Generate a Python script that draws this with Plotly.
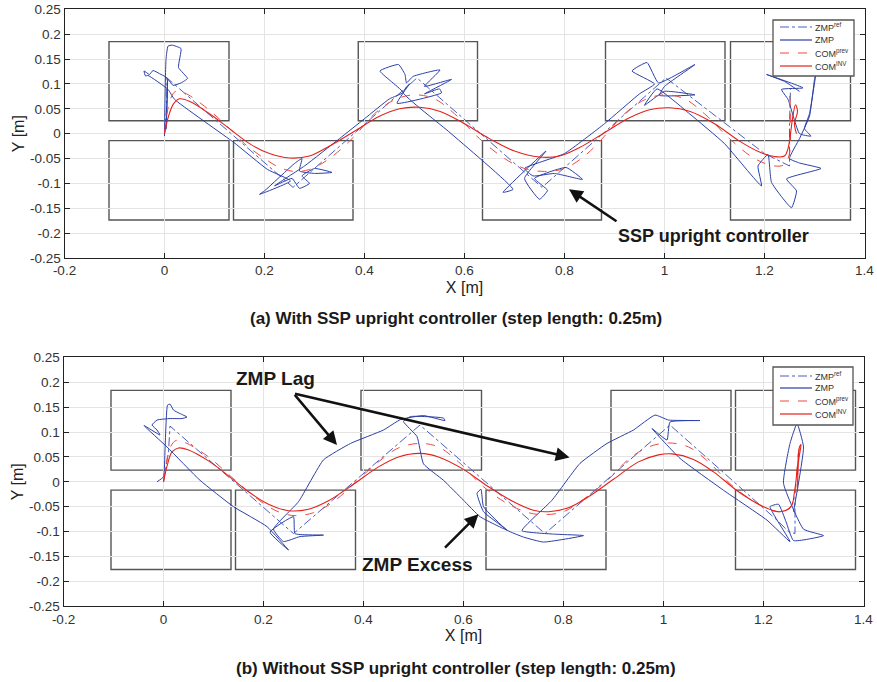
import plotly.graph_objects as go

# ---------------- data: (a) with SSP upright controller ----------------
foot_a_x0 = [-0.111, 0.138, 0.636, 1.132, -0.111, 0.3875, 0.882, 1.132]
foot_a_x1 = [0.129, 0.377, 0.874, 1.372, 0.129, 0.626, 1.121, 1.372]
foot_a_y0 = [-0.1735, -0.1735, -0.1735, -0.1735, 0.026, 0.026, 0.026, 0.026]
foot_a_y1 = [-0.014, -0.014, -0.014, -0.014, 0.185, 0.185, 0.185, 0.185]

zmpref_a_x = [0.0, 0.004, 0.005, 0.257, 0.505, 0.755, 1.003, 1.2, 1.25, 1.25, 1.252]
zmpref_a_y = [0.0, 0.05, 0.112, -0.108, 0.112, -0.108, 0.112, -0.04, -0.065, 0.02, 0.09]

zmp_a_x = [0.0, 0.001, 0.003, 0.007, 0.015, 0.033, 0.028, 0.046, 0.033, 0.017, 0.007, 0.005, 0.003,
           0.005, -0.007, -0.023, -0.03, -0.041, -0.038, -0.033, 0.007, 0.02,
           0.139, 0.206, 0.252,
           0.19, 0.2, 0.26, 0.275, 0.27, 0.3, 0.335, 0.3, 0.275, 0.29, 0.27, 0.255, 0.22, 0.28,
           0.35, 0.4, 0.45, 0.477,
           0.431, 0.468, 0.481, 0.484, 0.497, 0.551, 0.52, 0.574, 0.52, 0.55, 0.554, 0.465, 0.49, 0.477,
           0.571, 0.697,
           0.677, 0.763, 0.72, 0.75, 0.766, 0.74, 0.803, 0.836, 0.78, 0.737, 0.72,
           0.8, 0.88, 0.95, 0.98,
           0.935, 0.965, 0.988, 1.061, 1.0, 0.99, 1.061, 1.0, 0.96, 0.985,
           1.05, 1.12, 1.194,
           1.187, 1.207, 1.214, 1.254, 1.264, 1.244, 1.313, 1.27, 1.25, 1.27, 1.29, 1.3, 1.303,
           1.29, 1.28, 1.293, 1.27, 1.247, 1.234, 1.277, 1.204, 1.24, 1.27]
zmp_a_y = [-0.005, 0.069, 0.149, 0.176, 0.178, 0.171, 0.133, 0.111, 0.102, 0.097, 0.109, 0.069, 0.009,
           0.112, 0.119, 0.127, 0.119, 0.126, 0.116, 0.117, 0.089, 0.069,
           -0.018, -0.072, -0.095,
           -0.122, -0.115, -0.06, -0.05, -0.075, -0.08, -0.078, -0.07, -0.085, -0.1, -0.11, -0.09, -0.105, -0.065,
           -0.01, 0.03, 0.07, 0.083,
           0.126, 0.139, 0.119, 0.102, 0.115, 0.128, 0.095, 0.109, 0.08, 0.09, 0.082, 0.061, 0.1, 0.083,
           0.002, -0.112,
           -0.118, -0.035, -0.09, -0.132, -0.114, -0.09, -0.068, -0.092, -0.08, -0.085, -0.07,
           -0.04, 0.02, 0.08, 0.1,
           0.126, 0.143, 0.102, 0.139, 0.095, 0.077, 0.078, 0.085, 0.057, 0.09,
           0.04, -0.02, -0.105,
           -0.065, -0.042, -0.098, -0.149, -0.115, -0.091, -0.07, -0.059, -0.05, -0.01, 0.035, 0.109, 0.122,
           0.04, 0.01, -0.005, 0.0, 0.069, 0.089, 0.092, 0.119, 0.105, 0.085]

comprev_a_x = [0.0, 0.005, 0.012, 0.022, 0.04, 0.08, 0.12, 0.16, 0.2, 0.23, 0.26, 0.29, 0.33, 0.38, 0.42,
               0.46, 0.5, 0.54, 0.58, 0.63, 0.68, 0.72, 0.76, 0.8, 0.84, 0.88, 0.92, 0.96, 1.0, 1.04,
               1.08, 1.13, 1.18, 1.22, 1.24, 1.25, 1.252, 1.252, 1.25]
comprev_a_y = [0.0, 0.04, 0.07, 0.085, 0.082, 0.055, 0.02, -0.02, -0.05, -0.068, -0.076, -0.072, -0.05,
               -0.005, 0.04, 0.068, 0.078, 0.07, 0.04, -0.01, -0.05, -0.07, -0.076, -0.07, -0.045,
               -0.005, 0.04, 0.068, 0.078, 0.07, 0.04, -0.01, -0.05, -0.065, -0.062, -0.04, 0.0, 0.05, 0.08]

cominv_a_x = [0.0, 0.008, 0.018, 0.03, 0.05, 0.09, 0.13, 0.17, 0.21, 0.25, 0.29, 0.33, 0.38, 0.43, 0.47,
              0.51, 0.55, 0.6, 0.65, 0.7, 0.75, 0.79, 0.83, 0.88, 0.93, 0.97, 1.01, 1.05, 1.1, 1.15,
              1.19, 1.22, 1.24, 1.247, 1.252, 1.256, 1.262, 1.266, 1.26, 1.264]
cominv_a_y = [0.0, 0.035, 0.06, 0.07, 0.065, 0.04, 0.01, -0.02, -0.04, -0.049, -0.045, -0.025, 0.005,
              0.035, 0.05, 0.053, 0.045, 0.02, -0.01, -0.035, -0.047, -0.045, -0.028, 0.002, 0.032,
              0.048, 0.052, 0.045, 0.02, -0.015, -0.037, -0.046, -0.045, -0.03, 0.0, 0.03, 0.058, 0.045, 0.02, 0.0]

# ---------------- data: (b) without SSP upright controller ----------------
foot_b_x0 = [-0.105, 0.144, 0.645, 1.144, -0.105, 0.395, 0.895, 1.144]
foot_b_x1 = [0.135, 0.384, 0.885, 1.384, 0.135, 0.636, 1.135, 1.384]
foot_b_y0 = [-0.176, -0.176, -0.176, -0.176, 0.0235, 0.0235, 0.0235, 0.0235]
foot_b_y1 = [-0.0167, -0.0167, -0.0167, -0.0167, 0.1835, 0.1835, 0.1835, 0.1835]

zmpref_b_x = [0.0, 0.01, 0.013, 0.26, 0.513, 0.763, 1.013, 1.227, 1.25, 1.263, 1.263]
zmpref_b_y = [0.0, 0.06, 0.112, -0.104, 0.114, -0.104, 0.114, -0.077, -0.1, -0.104, -0.03]

zmp_b_x = [-0.013, 0.0, 0.003, 0.008, 0.013, 0.02, 0.033, 0.047, 0.037, 0.013, -0.013, -0.023, -0.013,
           -0.007, -0.039,
           0.007, 0.073, 0.14, 0.207, 0.25,
           0.213, 0.26, 0.263, 0.32, 0.273, 0.24, 0.22,
           0.27, 0.32, 0.374, 0.44, 0.474,
           0.52, 0.563, 0.56, 0.494, 0.48, 0.507,
           0.52, 0.56, 0.6, 0.633, 0.687, 0.64, 0.627, 0.635, 0.64, 0.687, 0.72, 0.76, 0.84, 0.78,
           0.717, 0.777, 0.833, 0.887, 0.94, 0.983, 1.01, 1.073, 1.013, 1.007, 0.977, 1.033,
           1.12, 1.207, 1.253, 1.213, 1.23, 1.245, 1.26, 1.32, 1.28, 1.24, 1.253, 1.267, 1.28, 1.26]
zmp_b_y = [0.0, 0.01, 0.064, 0.154, 0.156, 0.144, 0.137, 0.13, 0.127, 0.127, 0.124, 0.114, 0.104,
           0.094, 0.113,
           0.07, 0.003, -0.05, -0.09, -0.137,
           -0.101, -0.07, -0.104, -0.107, -0.11, -0.12, -0.095,
           -0.04, 0.044, 0.077, 0.104, 0.125,
           0.133, 0.123, 0.128, 0.131, 0.121, 0.091,
           0.036, 0.003, -0.037, -0.07, -0.097, -0.06, -0.023, -0.015, -0.05, -0.097, -0.111, -0.121,
           -0.108, -0.105,
           -0.098, -0.037, 0.037, 0.077, 0.104, 0.134, 0.124, 0.123, 0.12, 0.084, 0.107, 0.047,
           -0.017, -0.077, -0.12, -0.05, -0.045, -0.08, -0.118, -0.108, -0.095, -0.003, 0.077, 0.117, 0.07, -0.06]

comprev_b_x = [0.0, 0.006, 0.014, 0.025, 0.045, 0.09, 0.13, 0.17, 0.21, 0.24, 0.265, 0.3, 0.34, 0.39,
               0.43, 0.47, 0.513, 0.55, 0.59, 0.64, 0.69, 0.73, 0.76, 0.8, 0.84, 0.89, 0.93, 0.97,
               1.01, 1.05, 1.09, 1.14, 1.19, 1.227, 1.25, 1.262, 1.266, 1.27, 1.275]
comprev_b_y = [0.0, 0.04, 0.07, 0.083, 0.078, 0.05, 0.015, -0.02, -0.05, -0.064, -0.068, -0.062, -0.04,
               0.005, 0.04, 0.068, 0.077, 0.07, 0.04, -0.01, -0.045, -0.062, -0.066, -0.06, -0.035,
               0.005, 0.045, 0.07, 0.078, 0.07, 0.04, -0.01, -0.045, -0.06, -0.055, -0.03, 0.01, 0.06, 0.08]

cominv_b_x = [0.0, 0.008, 0.017, 0.03, 0.05, 0.09, 0.13, 0.17, 0.21, 0.25, 0.29, 0.33, 0.38, 0.43,
              0.47, 0.513, 0.55, 0.6, 0.65, 0.7, 0.74, 0.77, 0.81, 0.85, 0.9, 0.95, 0.99, 1.017,
              1.06, 1.1, 1.15, 1.2, 1.233, 1.255, 1.262, 1.268, 1.272, 1.275, 1.27, 1.268]
cominv_b_y = [0.0, 0.035, 0.06, 0.068, 0.064, 0.042, 0.012, -0.02, -0.045, -0.058, -0.055, -0.038,
              -0.005, 0.03, 0.05, 0.057, 0.05, 0.025, -0.01, -0.04, -0.057, -0.06, -0.052, -0.03,
              0.005, 0.04, 0.054, 0.056, 0.045, 0.02, -0.02, -0.05, -0.06, -0.05, -0.02, 0.03, 0.07,
              0.075, 0.04, -0.02]

x_ticks = [-0.2, 0, 0.2, 0.4, 0.6, 0.8, 1, 1.2, 1.4]
y_ticks = [0.25, 0.2, 0.15, 0.1, 0.05, 0, -0.05, -0.1, -0.15, -0.2, -0.25]
y_ticktext = ["0.25", "0.2", "0.15", "0.1", "0.05", "0", "-0.05", "-0.1", "-0.15", "-0.2", "-0.25"]
x_ticktext = ["-0.2", "0", "0.2", "0.4", "0.6", "0.8", "1", "1.2", "1.4"]

legend_labels = ["ZMP<sup>ref</sup>", "ZMP", "COM<sup>prev</sup>", "COM<sup>INV</sup>"]

# ---------------- styles ----------------
C_REF = "#4a5fc0"
C_ZMP = "#2b3fa6"
C_PREV = "#f04a40"
C_INV = "#e3221c"
FONT = "Liberation Sans, Arial, sans-serif"
W, H = 877, 682

series_styles = [
    dict(color=C_REF, width=1, dash="dashdot"),
    dict(color=C_ZMP, width=1, shape="spline", smoothing=0.4),
    dict(color=C_PREV, width=1, dash="dash", shape="spline"),
    dict(color=C_INV, width=1.1, shape="spline"),
]

fig = go.Figure()


def add_series(xa, ya, xs, ys):
    for lab, sx, sy, st in zip(legend_labels, xs, ys, series_styles):
        fig.add_trace(go.Scatter(x=sx, y=sy, xaxis=xa, yaxis=ya, mode="lines", name=lab,
                                 line=st, showlegend=False))


add_series("x", "y",
           [zmpref_a_x, zmp_a_x, comprev_a_x, cominv_a_x],
           [zmpref_a_y, zmp_a_y, comprev_a_y, cominv_a_y])
add_series("x2", "y2",
           [zmpref_b_x, zmp_b_x, comprev_b_x, cominv_b_x],
           [zmpref_b_y, zmp_b_y, comprev_b_y, cominv_b_y])

shapes = []
for x0s, x1s, y0s, y1s, xr, yr in [(foot_a_x0, foot_a_x1, foot_a_y0, foot_a_y1, "x", "y"),
                                   (foot_b_x0, foot_b_x1, foot_b_y0, foot_b_y1, "x2", "y2")]:
    for a, b, c, d in zip(x0s, x1s, y0s, y1s):
        shapes.append(dict(type="rect", xref=xr, yref=yr, x0=a, x1=b, y0=c, y1=d,
                           line=dict(color="#555555", width=1.4), layer="below"))

annotations = []

# manual legends (box in pixels, row centres in pixels)
legend_boxes = [
    dict(x0=773, x1=854, y0=20, y1=76, rows=[27, 40, 53, 66]),
    dict(x0=773, x1=853, y0=367, y1=425, rows=[376, 388, 401, 414]),
]
for lb in legend_boxes:
    shapes.append(dict(type="rect", xref="paper", yref="paper", x0=lb["x0"] / W, x1=lb["x1"] / W,
                       y0=1 - lb["y1"] / H, y1=1 - lb["y0"] / H, fillcolor="white",
                       line=dict(color="#555", width=1.3), layer="above"))
    for lab, st, ry in zip(legend_labels, series_styles, lb["rows"]):
        shapes.append(dict(type="line", xref="paper", yref="paper", x0=(lb["x0"] + 7) / W,
                           x1=(lb["x0"] + 39) / W, y0=1 - ry / H, y1=1 - ry / H, layer="above",
                           line=dict(color=st["color"], width=1.2,
                                     dash=st.get("dash", "solid"))))
        annotations.append(dict(x=(lb["x0"] + 40) / W, y=1 - ry / H, xref="paper", yref="paper",
                                xanchor="left", yanchor="middle", text=lab, showarrow=False,
                                font=dict(family=FONT, size=9, color="#333")))

axis_common = dict(range=[-0.2, 1.4], tickvals=x_ticks, ticktext=x_ticktext, ticks="inside", ticklen=5,
                   tickcolor="#222", showline=True, linecolor="#222", linewidth=1, mirror="ticks",
                   showgrid=True, gridcolor="#e4e4e4", gridwidth=1, zeroline=False, automargin=False,
                   tickfont=dict(family=FONT, size=13.5, color="#333"),
                   title=dict(text="X [m]", font=dict(family=FONT, size=16, color="#222"), standoff=4))
yaxis_common = dict(range=[-0.25, 0.25], tickvals=y_ticks, ticktext=y_ticktext, ticks="inside", ticklen=5,
                    tickcolor="#222", showline=True, linecolor="#222", linewidth=1, mirror="ticks",
                    showgrid=True, gridcolor="#e4e4e4", gridwidth=1, zeroline=False, automargin=False,
                    tickfont=dict(family=FONT, size=13.5, color="#333"),
                    title=dict(text="Y [m]", font=dict(family=FONT, size=16, color="#222"), standoff=1))

fig.update_layout(
    width=W, height=H,
    margin=dict(l=0, r=0, t=0, b=0, autoexpand=False),
    paper_bgcolor="white", plot_bgcolor="white",
    xaxis=dict(domain=[64.5 / W, 864.5 / W], anchor="y", **axis_common),
    yaxis=dict(domain=[1 - 258 / H, 1 - 9.3 / H], anchor="x", **yaxis_common),
    xaxis2=dict(domain=[63.5 / W, 863.5 / W], anchor="y2", **axis_common),
    yaxis2=dict(domain=[1 - 606.3 / H, 1 - 357.3 / H], anchor="x2", **yaxis_common),
    shapes=shapes,
    showlegend=False,
)

bold = dict(family=FONT, size=18, color="#1a1a1a")
bold_big = dict(family=FONT, size=19, color="#1a1a1a")
arrow = dict(text="", showarrow=True, arrowhead=2, arrowsize=1.1, arrowwidth=2.5, arrowcolor="#111")
annotations += [
    # (a)
    dict(x=0.809, y=-0.112, ax=0.907, ay=-0.178, xref="x", yref="y", axref="x", ayref="y", **arrow),
    dict(x=1.097, y=-0.206, xref="x", yref="y", text="<b>SSP upright controller</b>",
         xanchor="center", yanchor="middle", showarrow=False, font=bold),
    # (b)
    dict(x=0.224, y=0.208, xref="x2", yref="y2", text="<b>ZMP Lag</b>", xanchor="center",
         yanchor="middle", showarrow=False, font=bold_big),
    dict(x=0.347, y=0.0737, ax=0.26, ay=0.1775, xref="x2", yref="y2", axref="x2", ayref="y2", **arrow),
    dict(x=0.812, y=0.049, ax=0.26, ay=0.1775, xref="x2", yref="y2", axref="x2", ayref="y2", **arrow),
    dict(x=0.508, y=-0.167, xref="x2", yref="y2", text="<b>ZMP Excess</b>", xanchor="center",
         yanchor="middle", showarrow=False, font=bold_big),
    dict(x=0.63, y=-0.065, ax=0.56, ay=-0.135, xref="x2", yref="y2", axref="x2", ayref="y2", **arrow),
    # captions
    dict(x=455.8 / W, y=1 - 318 / H, xref="paper", yref="paper", xanchor="center", yanchor="middle",
         text="<b>(a) With SSP upright controller (step length: 0.25m)</b>", showarrow=False,
         font=dict(family=FONT, size=17, color="#1a1a1a")),
    dict(x=455.8 / W, y=1 - 668 / H, xref="paper", yref="paper", xanchor="center", yanchor="middle",
         text="<b>(b) Without SSP upright controller (step length: 0.25m)</b>", showarrow=False,
         font=dict(family=FONT, size=17, color="#1a1a1a")),
]
fig.update_layout(annotations=annotations)

fig.write_html("out.html")
